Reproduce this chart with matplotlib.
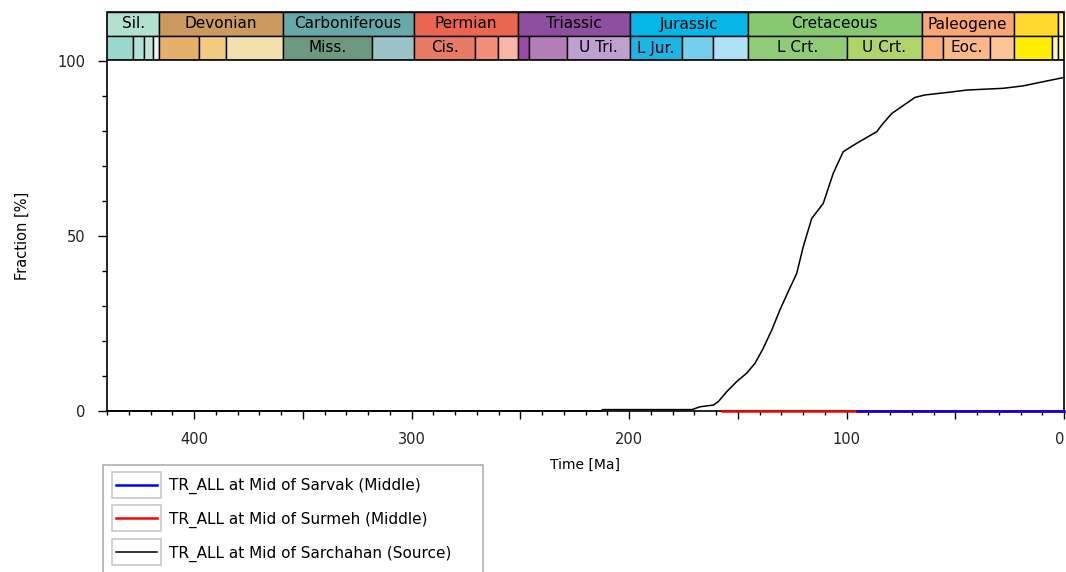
import matplotlib
matplotlib.use("Agg")
import matplotlib.pyplot as plt
from matplotlib.legend_handler import HandlerLine2D
from matplotlib.lines import Line2D
from matplotlib.patches import Rectangle
from matplotlib.ticker import MultipleLocator, FuncFormatter

plt.rcParams['font.family'] = ['DejaVu Sans']

# geologic time scale (Ma) - top row: periods
period_names = ["Sil.", "Devonian", "Carboniferous", "Permian", "Triassic",
                "Jurassic", "Cretaceous", "Paleogene", "", ""]
period_start = [443.7, 416.0, 359.2, 299.0, 251.0, 199.6, 145.5, 65.5, 23.03, 2.588]
period_end = [416.0, 359.2, 299.0, 251.0, 199.6, 145.5, 65.5, 23.03, 2.588, 0.0]
period_colors = ["#b3e1cf", "#cc9a5e", "#67a9aa", "#eb6650", "#8e4fa0",
                 "#05b6e6", "#85c870", "#f9a675", "#ffd92f", "#fff7a0"]

# bottom row: epochs
epoch_names = ["", "", "", "", "", "", "", "Miss.", "", "Cis.", "", "",
               "", "", "U Tri.", "L Jur.", "", "", "L Crt.", "U Crt.",
               "", "Eoc.", "", "", "", ""]
epoch_start = [443.7, 428.2, 422.9, 418.7, 416.0, 397.5, 385.3, 359.2, 318.1,
               299.0, 270.6, 260.4, 251.0, 245.9, 228.7, 199.6, 175.6, 161.2,
               145.5, 99.6, 65.5, 55.8, 33.9, 23.03, 5.332, 2.588]
epoch_end = [428.2, 422.9, 418.7, 416.0, 397.5, 385.3, 359.2, 318.1, 299.0,
             270.6, 260.4, 251.0, 245.9, 228.7, 199.6, 175.6, 161.2, 145.5,
             99.6, 65.5, 55.8, 33.9, 23.03, 5.332, 2.588, 0.0]
epoch_colors = ["#99d8cc", "#b3e1d6", "#bfe6dc", "#e6f5f0",
                "#e6b06a", "#f2ca82", "#f2e0af",
                "#6f9880", "#9ac4c8",
                "#e87b66", "#f28d7a", "#f8b4a5",
                "#9a4aa5", "#b57db8", "#bfa0ce",
                "#1eb4e6", "#73cfeb", "#aee1f5",
                "#90cb78", "#b0d46a",
                "#f9ae7a", "#fbb888", "#fdc495",
                "#ffee00", "#fff7a8", "#fff9c0"]

# transformation ratio curves
time_sarchahan = [440, 213, 212, 171, 167.4, 161.2, 158.9, 155.1, 150.5, 145.9,
                  142.1, 138.3, 134.4, 130.6, 126.8, 122.9, 119.9, 116.0,
                  110.7, 106.1, 101.5, 95.3, 86.1, 83.8, 79.2, 68.5, 63.9,
                  52.4, 44.7, 27.9, 18.7, 11.0, 0]
tr_sarchahan = [0, 0, 0.4, 0.4, 1.2, 1.7, 2.7, 5.5, 8.4, 10.8,
                13.6, 17.9, 23.1, 28.9, 34.1, 39.3, 46.9, 55.0,
                59.3, 67.9, 74.1, 76.5, 79.8, 81.7, 85.0, 89.6, 90.3,
                91.1, 91.7, 92.2, 92.9, 93.9, 95.3]
time_surmeh = [157.4, 0]
tr_surmeh = [0, 0]
time_sarvak = [95.3, 0]
tr_sarvak = [0, 0]

W, H = 1066, 572
fig = plt.figure(figsize=(W / 100, H / 100), dpi=100)
ax = fig.add_axes([107 / W, 1 - 411 / H, (1064 - 107) / W, (411 - 61) / H])
band = fig.add_axes([107 / W, 1 - 60 / H, (1064 - 107) / W, 48 / H], sharex=ax)

ax.plot(time_surmeh, tr_surmeh, color="#ff0000", lw=1.8, clip_on=False, zorder=3,
        label="TR_ALL at Mid of Surmeh (Middle)")
ax.plot(time_sarvak, tr_sarvak, color="#0000ff", lw=1.8, clip_on=False, zorder=4,
        label="TR_ALL at Mid of Sarvak (Middle)")
ax.plot(time_sarchahan, tr_sarchahan, color="black", lw=1.1, clip_on=False, zorder=2,
        label="TR_ALL at Mid of Sarchahan (Source)")

ax.set_xlim(440, 0)
ax.set_ylim(0, 100)
ax.xaxis.set_major_locator(MultipleLocator(50))
ax.xaxis.set_minor_locator(MultipleLocator(10))
ax.xaxis.set_major_formatter(FuncFormatter(lambda v, p: f"{v:.0f}" if v % 100 == 0 else ""))
ax.yaxis.set_major_locator(MultipleLocator(50))
ax.yaxis.set_minor_locator(MultipleLocator(10))
ax.tick_params(axis="x", which="major", length=6, width=1, pad=9, labelsize=10.5)
ax.tick_params(axis="x", which="minor", length=3, width=1)
ax.tick_params(axis="y", which="major", length=6.5, width=1, pad=9, labelsize=10.5)
ax.tick_params(axis="y", which="minor", length=3.5, width=1)
ax.tick_params(labelcolor="#222222")
for s in ax.spines.values():
    s.set_linewidth(1.2)
ax.spines["top"].set_visible(False)
ax.set_xlabel("Time [Ma]", fontsize=10, labelpad=8)
ax.set_ylabel("Fraction [%]", fontsize=10.5, labelpad=20)

# time scale band
band.bar(x=period_start, height=1, width=[e - s for s, e in zip(period_start, period_end)],
         bottom=1, align="edge", color=period_colors, edgecolor="black", linewidth=1)
band.bar(x=epoch_start, height=1, width=[e - s for s, e in zip(epoch_start, epoch_end)],
         bottom=0, align="edge", color=epoch_colors, edgecolor="black", linewidth=1)
for name, s, e in zip(period_names, period_start, period_end):
    if name:
        band.text((min(s, 440) + e) / 2, 1.5, name, ha="center", va="center", fontsize=11)
for name, s, e in zip(epoch_names, epoch_start, epoch_end):
    if name:
        band.text((min(s, 440) + e) / 2, 0.5, name, ha="center", va="center", fontsize=11)
band.set_ylim(0, 2)
band.set_xlim(440, 0)
band.axis("off")
band.add_patch(Rectangle((0, 0), 1, 1, transform=band.transAxes, fill=False,
                         edgecolor="black", linewidth=1.2, clip_on=False))


class BoxedLine(HandlerLine2D):
    def create_artists(self, legend, orig_handle, xdescent, ydescent, width, height,
                       fontsize, trans):
        arts = super().create_artists(legend, orig_handle, xdescent, ydescent, width,
                                      height, fontsize, trans)
        box = Rectangle((-xdescent - 3, -ydescent - 5.5), width + 6, height + 11,
                        facecolor="white", edgecolor="#c8c8c8", linewidth=1.2,
                        transform=trans)
        return [box] + arts


handles, labels = ax.get_legend_handles_labels()
order = [1, 0, 2]
leg = fig.legend([handles[i] for i in order], [labels[i] for i in order],
                 loc="upper left", bbox_to_anchor=(103 / W, 0, 380 / W, 1 - 465 / H),
                 mode="expand", fancybox=False, edgecolor="#b0b0b0", framealpha=1,
                 fontsize=11, handlelength=2.7, handletextpad=0.75, labelspacing=1.15,
                 borderpad=0.85, borderaxespad=0,
                 handler_map={Line2D: BoxedLine()})
leg.get_frame().set_linewidth(1.2)

fig.canvas.draw()
for lab in ax.get_xticklabels():
    if lab.get_text() == "0":
        lab.set_ha("right")
        lab.set_x(0)

fig.savefig("out.png", dpi=100)
